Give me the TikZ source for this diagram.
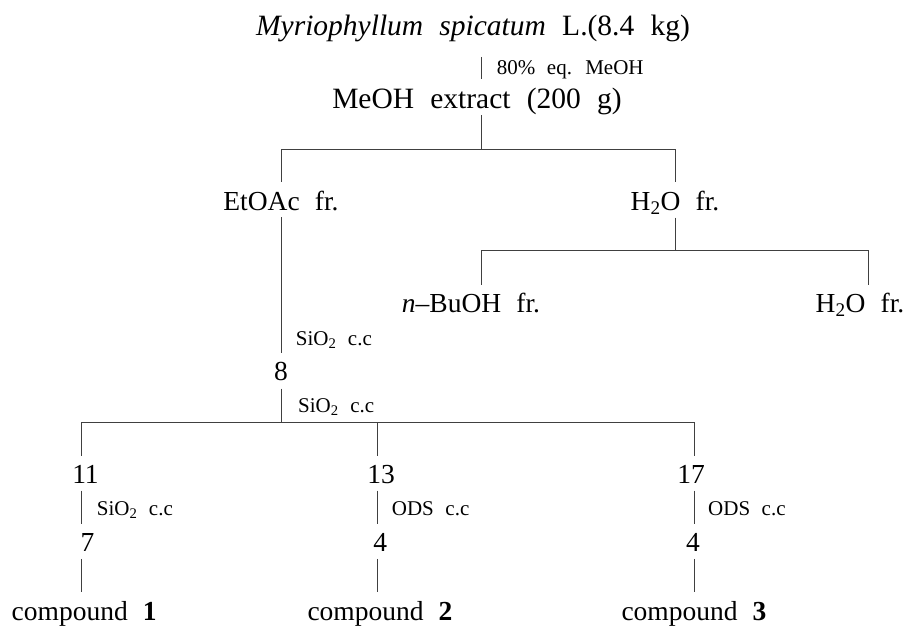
\documentclass[tikz,border=0pt]{standalone}
\usepackage{fontspec}
\setmainfont[WordSpace=2.2]{Liberation Serif}
\begin{document}
\begin{tikzpicture}[x=1pt,y=-1pt,
  main/.style={font=\fontsize{27.5}{30}\selectfont, inner sep=0pt, anchor=base, text height=18pt, text depth=5pt},
  big/.style={main, font=\fontsize{29.5}{32}\selectfont, text height=20pt, text depth=6pt},
  lab/.style={font=\fontsize{21}{24}\selectfont, inner sep=0pt, anchor=base west},
  conn/.style={draw=black!75, line width=1pt},
  edge/.style={conn, shorten <=2pt, shorten >=9.5pt},
  down/.style={conn, shorten >=9.5pt}]
\useasboundingbox (0,0) rectangle (908,625);
% column coordinates
\coordinate (top) at (481,0);
\coordinate (cC) at (481,0);
\coordinate (cD) at (868,0);
\coordinate (c1) at (81.3,0);
\coordinate (c2) at (377.7,0);
\coordinate (c3) at (694,0);
\coordinate (j1) at (481,149);
\coordinate (j2) at (675,250.7);
\coordinate (j3) at (281,422);
% nodes
\node[big] (title) at (473,35) {\textit{Myriophyllum spicatum} L.(8.4 kg)};
\node[lab] (l1) at (496.7,74) {80\% eq. MeOH};
\node[big] (meoh) at (477,108.3) {MeOH extract (200 g)};
\node[main] (etoac) at (281,210) {EtOAc fr.};
\node[main] (h2oa) at (675,210.5) {H\textsubscript{2}O fr.};
\node[main] (nbuoh) at (471,312.7) {\textit{n}\textendash BuOH fr.};
\node[main] (h2ob) at (860,312.7) {H\textsubscript{2}O fr.};
\node[lab] (l2) at (295.7,345) {SiO\textsubscript{2} c.c};
\node[main] (eight) at (281,380.7) {8};
\node[lab] (l3) at (298,412.7) {SiO\textsubscript{2} c.c};
\node[main] (n11) at (85.5,483.3) {11};
\node[main] (n13) at (381,483.3) {13};
\node[main] (n17) at (691,483.3) {17};
\node[lab] (l4) at (96.7,515) {SiO\textsubscript{2} c.c};
\node[lab] (l5) at (391.7,515) {ODS c.c};
\node[lab] (l6) at (708,515) {ODS c.c};
\node[main] (n7) at (87.5,551.7) {7};
\node[main] (n4a) at (380.3,551.7) {4};
\node[main] (n4b) at (693,551.7) {4};
\node[main] (cmp1) at (84.2,620) {compound \textbf{1}};
\node[main] (cmp2) at (380,620) {compound \textbf{2}};
\node[main] (cmp3) at (694,620) {compound \textbf{3}};
% connectors
\draw[conn, shorten <=15.7pt, shorten >=9pt] (title.south -| top) -- (meoh.north -| top);
\draw[conn, shorten <=0.7pt] (meoh.south -| top) -- (j1);
\draw[conn, shorten >=10pt] (j1) -| (etoac.north);
\draw[conn, shorten >=10pt] (j1) -| (h2oa.north);
\draw[edge] (etoac.south) -- (eight.north);
\draw[conn, shorten <=2pt] (h2oa.south) -- (j2);
\draw[down] (j2) -| (nbuoh.north -| cC);
\draw[down] (j2) -| (h2ob.north -| cD);
\draw[conn, shorten <=2.6pt] (eight.south) -- (j3);
\draw[down] (j3) -| (n11.north -| c1);
\draw[down] (j3) -| (n13.north -| c2);
\draw[down] (j3) -| (n17.north -| c3);
\draw[edge] (n11.south -| c1) -- (n7.north -| c1);
\draw[edge] (n13.south -| c2) -- (n4a.north -| c2);
\draw[edge] (n17.south -| c3) -- (n4b.north -| c3);
\draw[edge] (n7.south -| c1) -- (cmp1.north -| c1);
\draw[edge] (n4a.south -| c2) -- (cmp2.north -| c2);
\draw[edge] (n4b.south -| c3) -- (cmp3.north -| c3);
\end{tikzpicture}
\end{document}
